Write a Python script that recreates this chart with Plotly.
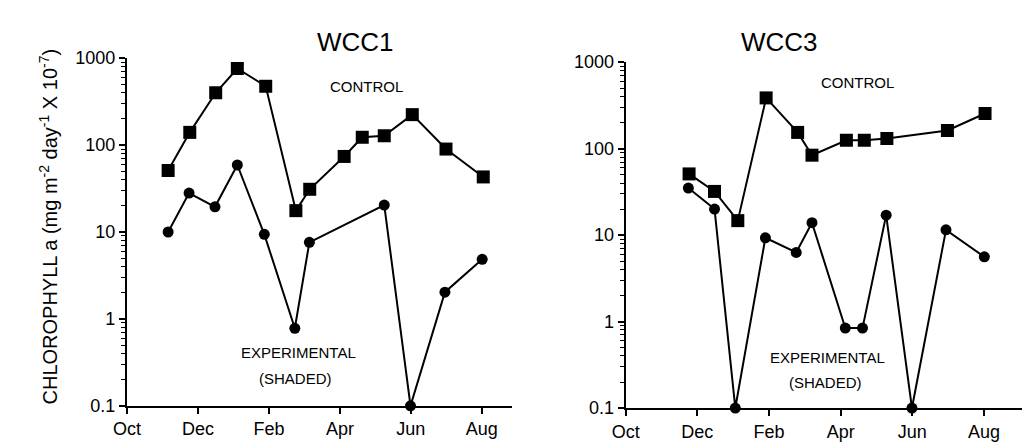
import numpy as np
import plotly.graph_objects as go

# months after 1 Oct
month_ticks = [0, 2, 4, 6, 8, 10]
month_labels = ["Oct", "Dec", "Feb", "Apr", "Jun", "Aug"]
y_ticks = [0.1, 1, 10, 100, 1000]
y_labels = ["0.1", "1", "10", "100", "1000"]
minor_y_ticks = [m * d for d in y_ticks[:-1] for m in range(2, 10)]

# WCC1
wcc1_ctrl_x = [1.16, 1.77, 2.50, 3.11, 3.91, 4.76, 5.15, 6.12, 6.63, 7.25, 8.04, 8.99, 10.04]
wcc1_ctrl_y = [51, 140, 400, 760, 475, 17.6, 31, 74, 123, 128, 224, 90, 43]
wcc1_exp_x = [1.16, 1.75, 2.48, 3.11, 3.87, 4.73, 5.14, 7.25, 7.99, 8.96, 10.01]
wcc1_exp_y = [10, 28, 19.5, 59, 9.4, 0.78, 7.6, 20.4, 0.1, 2.03, 4.85]

# WCC3
wcc3_ctrl_x = [1.77, 2.48, 3.13, 3.92, 4.80, 5.20, 6.16, 6.66, 7.29, 8.98, 10.03]
wcc3_ctrl_y = [51, 32, 14.7, 386, 154, 84, 125, 125, 131, 162, 255]
wcc3_exp_x = [1.75, 2.48, 3.06, 3.90, 4.76, 5.20, 6.13, 6.61, 7.27, 7.99, 8.94, 10.01]
wcc3_exp_y = [35, 20, 0.1, 9.3, 6.3, 13.9, 0.84, 0.84, 17, 0.1, 11.5, 5.6]

FONT = "Liberation Sans, Arial, sans-serif"
line_style = dict(color="black", width=2)

fig = go.Figure()

def add_series(x, y, xa, ya, symbol, size):
    fig.add_trace(go.Scatter(
        x=x, y=y, xaxis=xa, yaxis=ya, mode="lines+markers",
        line=line_style, marker=dict(symbol=symbol, size=size, color="black"),
        cliponaxis=False, showlegend=False))

add_series(wcc1_ctrl_x, wcc1_ctrl_y, "x", "y", "square", 13)
add_series(wcc1_exp_x, wcc1_exp_y, "x", "y", "circle", 11)
add_series(wcc3_ctrl_x, wcc3_ctrl_y, "x2", "y2", "square", 13)
add_series(wcc3_exp_x, wcc3_exp_y, "x2", "y2", "circle", 11)

def xaxis_cfg(domain, anchor, rng):
    return dict(domain=domain, anchor=anchor, range=rng, automargin=False,
                tickvals=month_ticks, ticktext=month_labels,
                ticks="outside", ticklen=6, tickwidth=1.5, tickcolor="black",
                showline=True, linecolor="black", linewidth=2,
                showgrid=False, zeroline=False,
                tickfont=dict(family=FONT, size=18, color="black"))

def yaxis_cfg(domain, anchor):
    return dict(domain=domain, anchor=anchor, type="log", range=[-1, 3], automargin=False,
                tickvals=y_ticks, ticktext=y_labels,
                ticks="outside", ticklen=6, tickwidth=1.5, tickcolor="black",
                minor=dict(ticks="outside", ticklen=4, tickwidth=1, tickcolor="black",
                           tickvals=minor_y_ticks, showgrid=False),
                showline=True, linecolor="black", linewidth=2,
                showgrid=False, zeroline=False,
                tickfont=dict(family=FONT, size=18, color="black"))

fig.update_layout(
    template="none",
    width=1024, height=444,
    margin=dict(l=0, r=0, t=0, b=0),
    paper_bgcolor="white", plot_bgcolor="white",
    xaxis=xaxis_cfg([0.124, 0.5], "y", [0, 10.85]),
    yaxis=yaxis_cfg([0.086, 0.869], "x"),
    xaxis2=xaxis_cfg([0.611, 0.998], "y2", [0, 11.06]),
    yaxis2=yaxis_cfg([0.081, 0.860], "x2"),
)

ann_font = dict(family=FONT, size=15, color="black")
annotations = [
    dict(text="WCC1", x=315 / 1024, y=1 - 25 / 444, xref="paper", yref="paper",
         showarrow=False, font=dict(family=FONT, size=26, color="black")),
    dict(text="WCC3", x=820 / 1024, y=1 - 25 / 444, xref="paper", yref="paper",
         showarrow=False, font=dict(family=FONT, size=26, color="black")),
    dict(text="CHLOROPHYLL a (mg m<sup>-2</sup> day<sup>-1</sup> X 10<sup>-7</sup>)",
         x=33 / 1024, y=1 - 227 / 444, xref="paper", yref="paper", textangle=-90,
         showarrow=False, font=dict(family=FONT, size=20, color="black")),
    dict(text="CONTROL", x=6.76, y=2.67, xref="x", yref="y", showarrow=False, font=ann_font),
    dict(text="EXPERIMENTAL", x=4.82, y=-0.39, xref="x", yref="y", showarrow=False, font=ann_font),
    dict(text="(SHADED)", x=4.76, y=-0.69, xref="x", yref="y", showarrow=False, font=ann_font),
    dict(text="CONTROL", x=6.47, y=2.76, xref="x2", yref="y2", showarrow=False, font=ann_font),
    dict(text="EXPERIMENTAL", x=5.62, y=-0.42, xref="x2", yref="y2", showarrow=False, font=ann_font),
    dict(text="(SHADED)", x=5.59, y=-0.71, xref="x2", yref="y2", showarrow=False, font=ann_font),
]
fig.update_layout(annotations=annotations)

fig.write_html("out.html")
